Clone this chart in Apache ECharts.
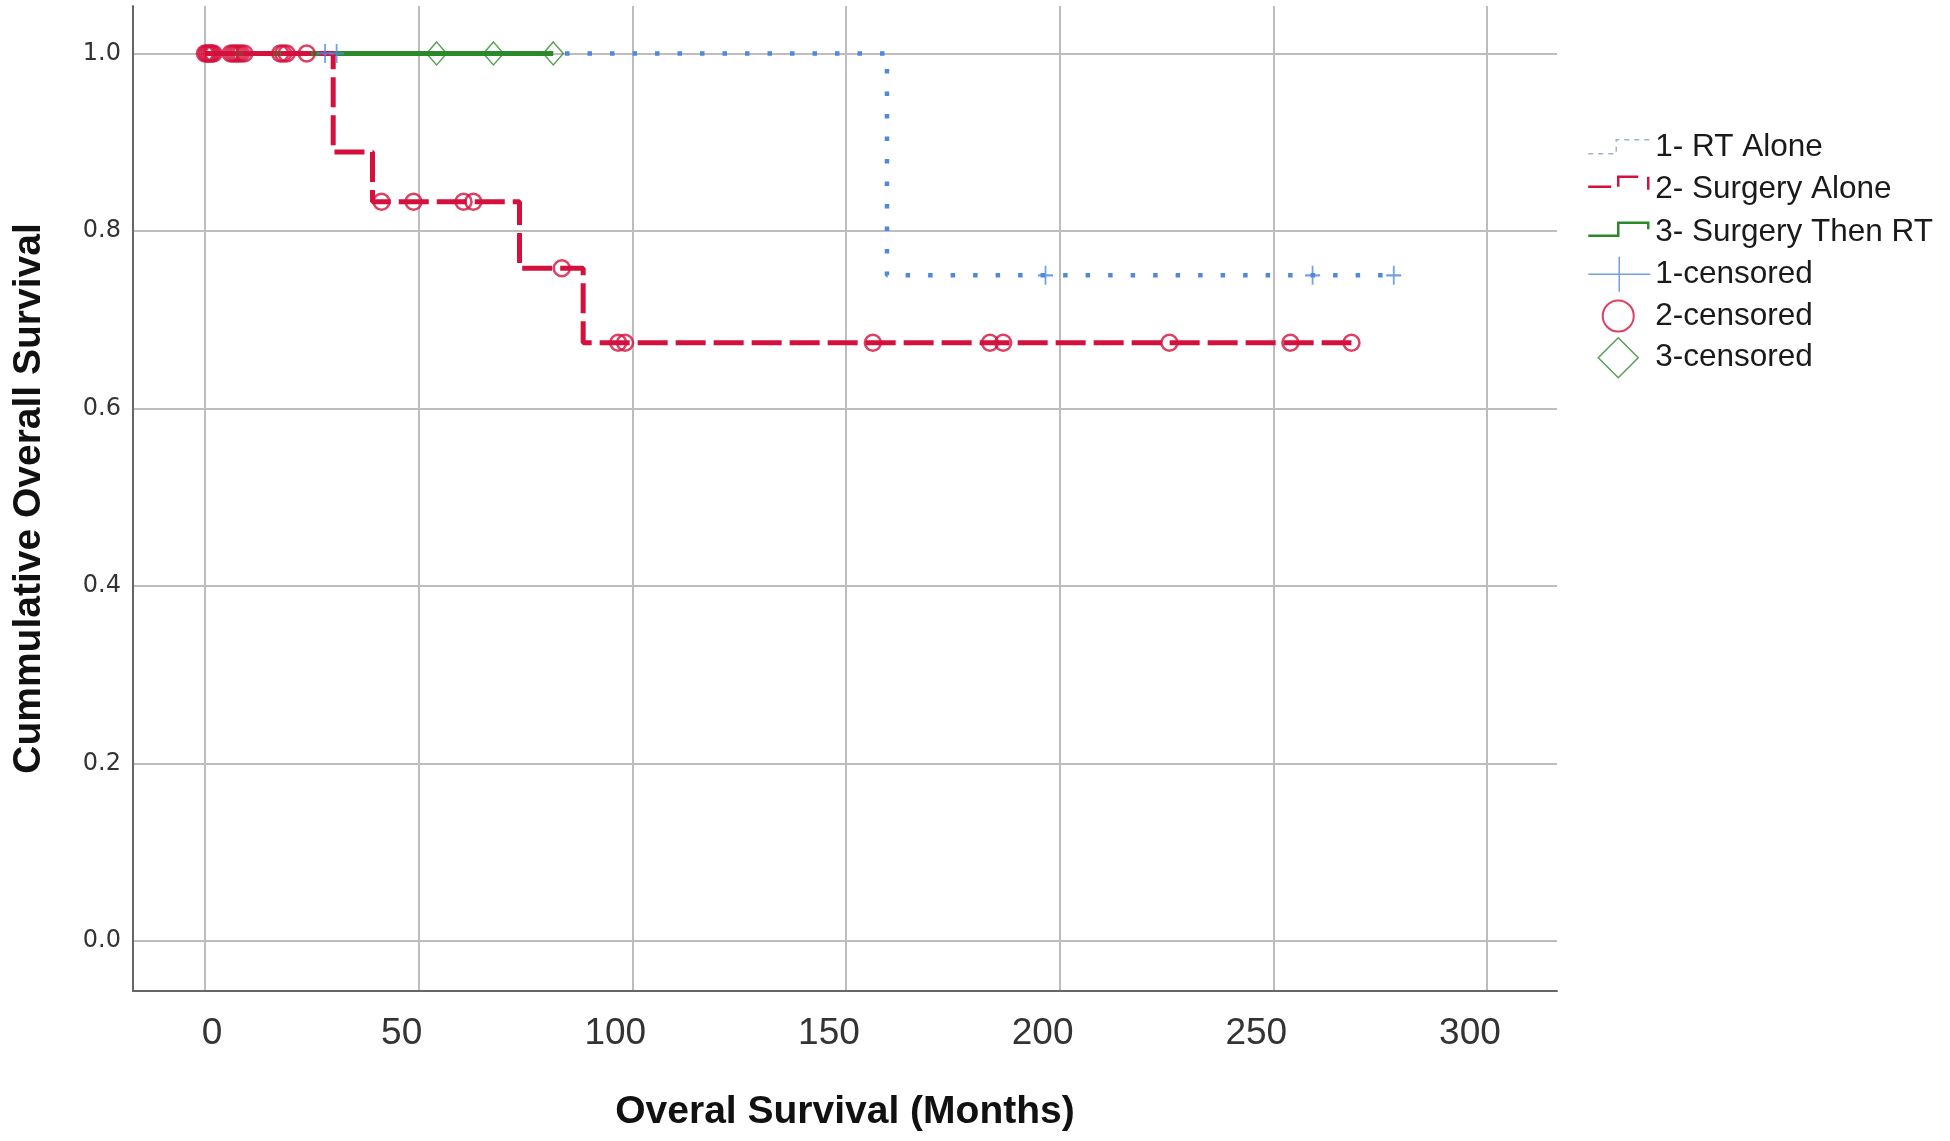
<!DOCTYPE html>
<html><head><meta charset="utf-8">
<script src="https://cdn.jsdelivr.net/npm/echarts@6/dist/echarts.min.js"></script>
<style>html,body{margin:0;padding:0;background:#fff}#c{width:1950px;height:1141px}</style>
</head><body><div id="c"></div>
<script>
// ---- tick labels ----
const xTicks = [0, 50, 100, 150, 200, 250, 300];
const yTicks = [0, 0.2, 0.4, 0.6, 0.8, 1.0];
// ---- series names ----
const groupNames = ['1- RT Alone', '2- Surgery Alone', '3- Surgery Then RT'];
const censorNames = ['1-censored', '2-censored', '3-censored'];
// ---- survival step curves ----
const rtTimes = [0, 159.6, 278.2];
const rtSurv = [1.0, 0.75, 0.75];
const surgTimes = [0, 30.0, 39.2, 73.6, 88.5, 268.3];
const surgSurv = [1.0, 0.889, 0.833, 0.758, 0.674, 0.674];
const thenTimes = [0, 81.5];
const thenSurv = [1.0, 1.0];
// ---- censored observations ----
const rtCensT = [28.1, 30.8, 196.7, 259.2, 278.2];
const rtCensS = [1.0, 1.0, 0.75, 0.75, 0.75];
const surgCensT = [0, 0.4, 0.8, 1.2, 1.6, 2.0, 6, 6.6, 7.2, 7.8, 8.4, 9.2, 17.6, 18.3, 19.1, 23.8, 41.3, 48.8, 60.5, 62.8, 83.5, 96.7, 98.3, 156.3, 183.7, 186.8, 225.7, 254.0, 268.3];
const surgCensS = [1, 1, 1, 1, 1, 1, 1, 1, 1, 1, 1, 1, 1, 1, 1, 1, 0.833, 0.833, 0.833, 0.833, 0.758, 0.674, 0.674, 0.674, 0.674, 0.674, 0.674, 0.674, 0.674];
const thenCensT = [54.2, 67.5, 81.5];
const thenCensS = [1.0, 1.0, 1.0];

const BLUE = '#4f88dc', RED = '#d4103c', GREEN = '#2a8a2a';
const zip = (a, b) => a.map((v, i) => [v, b[i]]);

const chart = echarts.init(document.getElementById('c'), null, {renderer: 'canvas'});
const BOX = 'M0 0M62 40';
chart.setOption({
  animation: false,
  backgroundColor: '#fff',
  grid: {left: 133, top: 6, width: 1424, height: 985, containLabel: false},
  xAxis: {
    type: 'value', min: -16.85, max: 316.4,
    name: 'Overal Survival (Months)', nameLocation: 'middle', nameGap: 102,
    nameTextStyle: {fontFamily: 'Liberation Sans', fontWeight: 'bold', fontSize: 39, color: '#111'},
    axisLine: {show: true, onZero: false, lineStyle: {color: '#666', width: 2}},
    axisTick: {show: false},
    splitLine: {show: false},
    axisLabel: {
      customValues: xTicks, margin: 24,
      formatter: v => (v === 0 ? '{z|' + v + '}' : '{n|' + v + '}'),
      rich: {
        z: {fontFamily: 'Liberation Sans', fontSize: 37, color: '#333', padding: [0, 0, 0, 14]},
        n: {fontFamily: 'Liberation Sans', fontSize: 37, color: '#333', padding: [0, 34, 0, 0]}
      }
    }
  },
  yAxis: {
    type: 'value', min: -0.0563, max: 1.0535,
    name: 'Cummulative Overall Survival', nameLocation: 'middle', nameGap: 84, nameRotate: 90,
    nameTextStyle: {fontFamily: 'Liberation Sans', fontWeight: 'bold', fontSize: 39, color: '#111'},
    axisLine: {show: true, onZero: false, lineStyle: {color: '#666', width: 2}},
    axisTick: {show: false},
    splitLine: {show: false},
    axisLabel: {
      customValues: yTicks, margin: 12,
      formatter: v => v.toFixed(1),
      fontFamily: 'DejaVu Sans', fontSize: 24, color: '#333', padding: [20, 0, 0, 0]
    }
  },
  legend: {
    orient: 'vertical', left: 1587, top: 127, padding: 0,
    itemWidth: 62, itemHeight: 40, itemGap: 0,
    selectedMode: false,
    textStyle: {fontFamily: 'Liberation Sans', fontSize: 31.5, color: '#1a1a1a', lineHeight: 36},
    data: [
      {name: groupNames[0], icon: 'path://' + BOX + 'M0 26L28 26L28 12L62 12',
        itemStyle: {color: 'rgba(0,0,0,0)', borderColor: '#9fb2c8', borderWidth: 1.5, borderType: [5, 5]}},
      {name: groupNames[1], icon: 'path://' + BOX + 'M0 17L23 17M30 17L30 7L50 7M60 7L60 20',
        itemStyle: {color: 'rgba(0,0,0,0)', borderColor: RED, borderWidth: 2.5, borderType: 'solid'}},
      {name: groupNames[2], icon: 'path://' + BOX + 'M0 23.5L30 23.5L30 10.5L60 10.5L60 17',
        itemStyle: {color: 'rgba(0,0,0,0)', borderColor: GREEN, borderWidth: 2.5, borderType: 'solid'}},
      {name: censorNames[0], icon: 'path://' + BOX + 'M0 20L62 20M31 2.5L31 37.5',
        itemStyle: {color: 'rgba(0,0,0,0)', borderColor: BLUE, borderWidth: 1.5, borderType: 'solid'}},
      {name: censorNames[1], icon: 'path://' + BOX + 'M45.5 20A15.5 15.5 0 1 1 14.5 20A15.5 15.5 0 1 1 45.5 20Z',
        itemStyle: {color: 'rgba(0,0,0,0)', borderColor: RED, borderWidth: 2, borderType: 'solid'}},
      {name: censorNames[2], icon: 'path://' + BOX + 'M30 0L50 20L30 40L10 20Z',
        itemStyle: {color: 'rgba(0,0,0,0)', borderColor: GREEN, borderWidth: 1.5, borderType: 'solid'}}
    ]
  },
  series: [
    {
      name: 'grid', type: 'scatter', data: [], z: 0, silent: true,
      markLine: {
        z: 0, silent: true, animation: false, symbol: ['none', 'none'], label: {show: false},
        lineStyle: {color: '#bdbdbd', width: 2, type: 'solid'},
        emphasis: {disabled: true},
        data: xTicks.map(v => ({xAxis: v})).concat(yTicks.map(v => ({yAxis: v})))
      }
    },
    {
      name: groupNames[0], type: 'line', step: 'end', data: zip(rtTimes, rtSurv), z: 2,
      symbol: 'none', silent: true,
      lineStyle: {color: BLUE, width: 4.5, type: [4.5, 18], cap: 'butt'},
      itemStyle: {color: BLUE}
    },
    {
      name: groupNames[2], type: 'line', step: 'end', data: zip(thenTimes, thenSurv), z: 3,
      symbol: 'none', silent: true,
      lineStyle: {color: GREEN, width: 5, type: 'solid'},
      itemStyle: {color: GREEN}
    },
    {
      name: groupNames[1], type: 'line', step: 'end', data: zip(surgTimes, surgSurv), z: 4,
      symbol: 'none', silent: true,
      lineStyle: {color: RED, width: 5, type: [30, 8], cap: 'butt'},
      itemStyle: {color: RED}
    },
    {
      name: censorNames[0], type: 'scatter', data: zip(rtCensT, rtCensS), z: 6, silent: true,
      symbol: 'path://M7.5 0L7.5 19M0 9.5L15 9.5', symbolSize: [15, 19],
      itemStyle: {color: 'rgba(0,0,0,0)', borderColor: BLUE, borderWidth: 2}
    },
    {
      name: censorNames[1], type: 'scatter', data: zip(surgCensT, surgCensS), z: 6, silent: true,
      symbol: 'circle', symbolSize: 16,
      itemStyle: {color: 'rgba(0,0,0,0)', borderColor: RED, borderWidth: 2.5}
    },
    {
      name: censorNames[2], type: 'scatter', data: zip(thenCensT, thenCensS), z: 6, silent: true,
      symbol: 'diamond', symbolSize: [20, 23],
      itemStyle: {color: 'rgba(0,0,0,0)', borderColor: GREEN, borderWidth: 1.5}
    }
  ]
});
</script>
</body></html>
